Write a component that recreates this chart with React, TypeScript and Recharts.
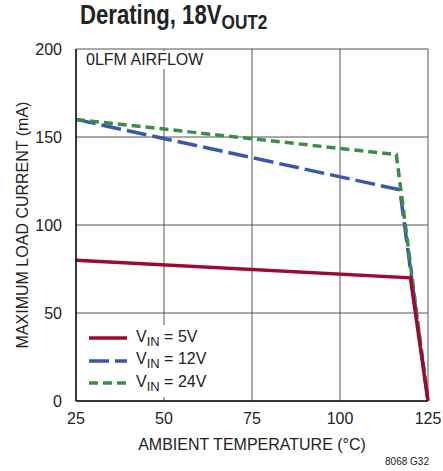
import { CartesianGrid, Legend, Line, LineChart, XAxis, YAxis } from "recharts";

// ambient temperature (°C) / max load current (mA)
const temps5V = [25, 120, 125];
const load5V = [80, 70, 0];
const temps12V = [25, 117, 125];
const load12V = [160, 120, 0];
const temps24V = [25, 116, 125];
const load24V = [160, 140, 0];

const xTicks = [25, 50, 75, 100, 125];
const yTicks = [0, 50, 100, 150, 200];

const toRows = (temps: number[], load: number[]) => temps.map((t, i) => ({ temp: t, load: load[i] }));

const series = [
  { key: "5V", label: "5V", rows: toRows(temps5V, load5V), color: "#9c0a2f", dash: undefined as string | undefined },
  { key: "12V", label: "12V", rows: toRows(temps12V, load12V), color: "#3a57ad", dash: "20 6" },
  { key: "24V", label: "24V", rows: toRows(temps24V, load24V), color: "#3a8c48", dash: "9 5" },
];

// draw order: blue, green, then red on top
const drawOrder = ["12V", "24V", "5V"];

const font = "'Liberation Sans', Arial, sans-serif";

function LegendBox() {
  return (
    <div style={{ background: "#fff", padding: "2px 8px 2px 6px", fontFamily: font, fontSize: 16, color: "#222" }}>
      {series.map((s) => (
        <div key={s.key} style={{ display: "flex", alignItems: "center", height: 22.5 }}>
          <svg width={40} height={8} style={{ marginRight: 8 }}>
            <line x1={1} y1={4} x2={39} y2={4} stroke={s.color} strokeWidth={3.5} strokeDasharray={s.dash} />
          </svg>
          <span>
            V<sub style={{ fontSize: 13, verticalAlign: -4 }}>IN</sub> = {s.label}
          </span>
        </div>
      ))}
    </div>
  );
}

export default function App() {
  return (
    <div style={{ position: "relative", width: 443, height: 471, background: "#fff", fontFamily: font }}>
      <style>{"body{margin:0}"}</style>
      <div
        style={{
          position: "absolute",
          left: 80,
          top: 0,
          fontWeight: 700,
          fontSize: 27,
          color: "#222",
          whiteSpace: "nowrap",
          transform: "scaleX(0.82)",
          transformOrigin: "left top",
        }}
      >
        Derating, 18V<sub style={{ fontSize: 21, verticalAlign: -5 }}>OUT2</sub>
      </div>
      <LineChart width={443} height={471} margin={{ top: 49, right: 15, bottom: 40, left: 0 }}>
        <CartesianGrid stroke="#555" strokeWidth={1} />
        <XAxis
          dataKey="temp"
          type="number"
          domain={[25, 125]}
          ticks={xTicks}
          allowDuplicatedCategory={false}
          height={30}
          tickLine={false}
          axisLine={{ stroke: "#111", strokeWidth: 1.5 }}
          tick={{ fill: "#222", fontSize: 16, fontFamily: font }}
          tickMargin={6}
          label={{
            content: ({ viewBox }: any) => (
              <text x={viewBox.x + viewBox.width / 2} y={450} textAnchor="middle" fill="#222" fontSize={16} fontFamily={font}>
                AMBIENT TEMPERATURE (°C)
              </text>
            ),
          }}
        />
        <XAxis xAxisId="top" orientation="top" type="number" domain={[25, 125]} height={0} tick={false} tickLine={false} axisLine={{ stroke: "#111", strokeWidth: 1.5 }} />
        <YAxis
          type="number"
          domain={[0, 200]}
          ticks={yTicks}
          width={76}
          tickLine={false}
          axisLine={{ stroke: "#111", strokeWidth: 1.5 }}
          tick={{ fill: "#222", fontSize: 16, fontFamily: font }}
          tickMargin={8}
          label={{
            content: ({ viewBox }: any) => {
              const cy = viewBox.y + viewBox.height / 2;
              return (
                <text x={28} y={cy} transform={`rotate(-90 28 ${cy})`} textAnchor="middle" fill="#222" fontSize={16} fontFamily={font}>
                  MAXIMUM LOAD CURRENT (mA)
                </text>
              );
            },
          }}
        />
        <YAxis yAxisId="right" orientation="right" type="number" domain={[0, 200]} width={0} tick={false} tickLine={false} axisLine={{ stroke: "#111", strokeWidth: 1.5 }} />
        {drawOrder.map((k) => {
          const s = series.find((x) => x.key === k)!;
          return (
            <Line
              key={s.key}
              data={s.rows}
              dataKey="load"
              name={s.label}
              type="linear"
              stroke={s.color}
              strokeWidth={3.5}
              strokeDasharray={s.dash}
              dot={false}
              activeDot={false}
              isAnimationActive={false}
            />
          );
        })}
        <Legend
          layout="horizontal"
          verticalAlign="middle"
          align="center"
          content={() => <LegendBox />}
          wrapperStyle={{ left: 82, top: 325, width: "auto" }}
        />
      </LineChart>
      <div style={{ position: "absolute", left: 82, top: 51, background: "#fff", padding: "0 4px", fontSize: 16, color: "#222" }}>0LFM AIRFLOW</div>
      <div style={{ position: "absolute", right: 14, top: 456, fontSize: 10, color: "#222" }}>8068 G32</div>
    </div>
  );
}
